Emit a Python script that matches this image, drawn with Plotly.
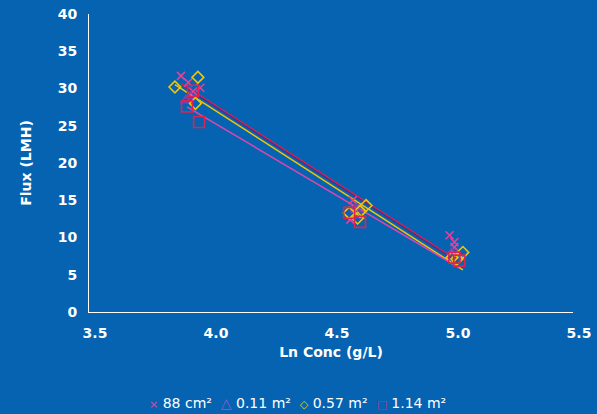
import plotly.graph_objects as go

# ---- data ----
series_names = ["88 cm²", "0.11 m²", "0.57 m²", "1.14 m²"]
legend_glyphs = ["×", "△", "◇", "□"]

x_88cm2 = [3.88, 3.91, 3.96, 3.93, 4.59, 4.58, 4.60, 4.99, 5.01, 5.01]
y_88cm2 = [31.7, 30.8, 30.1, 29.6, 15.0, 12.4, 13.9, 10.3, 9.4, 8.7]

x_011m2 = [3.92, 3.90, 4.60, 4.62, 5.00, 5.02]
y_011m2 = [29.0, 28.4, 13.8, 13.0, 8.0, 7.6]

x_057m2 = [3.855, 3.95, 3.94, 4.575, 4.62, 4.645, 4.61, 5.045, 5.00, 5.02]
y_057m2 = [30.2, 31.5, 28.0, 13.3, 13.5, 14.3, 12.6, 8.0, 7.3, 7.1]

x_114m2 = [3.905, 3.955, 3.93, 4.575, 4.62, 5.01, 5.03]
y_114m2 = [27.6, 25.5, 29.7, 13.3, 12.1, 7.3, 6.9]

# linear trendlines: flux = intercept + slope * ln(conc)
trend_intercept = [111.4, 111.2, 111.1, 102.5]
trend_slope = [-20.8, -20.8, -20.9, -19.2]

x_ticks = [3.5, 4.0, 4.5, 5.0, 5.5]
x_tick_text = ["3.5", "4.0", "4.5", "5.0", "5.5"]
y_ticks = [0, 5, 10, 15, 20, 25, 30, 35, 40]

# ---- styling ----
bg = "#0563B2"
marker_colors = ["#E8409A", "#7446AE", "#F5C400", "#E0224E"]
legend_colors = ["#E8409A", "#8E5BD0", "#F5C400", "#E0224E"]
legend_glyph_px = [11, 14, 11, 11]
line_colors = ["#E41D4C", "#3F3592", "#F2C500", "#E045AA"]
symbols = ["x-thin-open", "triangle-up-open", "diamond-open", "square-open"]
sizes = [8, 9, 9, 11]

xs = [x_88cm2, x_011m2, x_057m2, x_114m2]
ys = [y_88cm2, y_011m2, y_057m2, y_114m2]

fig = go.Figure()

# trendlines
for i in range(4):
    x0, x1 = min(xs[i]), max(xs[i])
    fig.add_trace(go.Scatter(
        x=[x0, x1],
        y=[trend_intercept[i] + trend_slope[i] * x0, trend_intercept[i] + trend_slope[i] * x1],
        mode="lines", line=dict(color=line_colors[i], width=1.5),
        showlegend=False, hoverinfo="skip"))

# markers
for i in range(4):
    fig.add_trace(go.Scatter(
        x=xs[i], y=ys[i], mode="markers", name=series_names[i], showlegend=False,
        marker=dict(symbol=symbols[i], size=sizes[i],
                    color=marker_colors[i],
                    line=dict(color=marker_colors[i], width=1.6))))

# compact legend as one line of text
parts = []
for i in range(4):
    parts.append(f"<span style='color:{legend_colors[i]};font-size:{legend_glyph_px[i]}px'>{legend_glyphs[i]}</span> {series_names[i]}")
legend_text = "  ".join(parts)

tick_font = dict(family="DejaVu Sans", size=14, color="white", weight="bold")

fig.update_layout(
    width=597, height=414,
    paper_bgcolor=bg, plot_bgcolor=bg,
    margin=dict(l=89, r=24, t=14, b=102, autoexpand=False),
    showlegend=False,
    annotations=[dict(text=legend_text, xref="paper", yref="paper", x=0.431, y=-0.305,
                      xanchor="center", yanchor="middle", showarrow=False,
                      font=dict(family="DejaVu Sans", size=14, color="white"))],
    xaxis=dict(range=[3.5, 5.5], tickvals=x_ticks, ticktext=x_tick_text, automargin=False,
               showgrid=False, zeroline=False, showline=True, linecolor="white", linewidth=1,
               ticks="", tickfont=tick_font, ticklabelshift=6, ticklabelstandoff=8,
               title=dict(text="Ln Conc (g/L)", font=tick_font, standoff=7)),
    yaxis=dict(range=[0, 40], tickvals=y_ticks, automargin=False,
               showgrid=False, zeroline=False, showline=True, linecolor="white", linewidth=1,
               ticks="", tickfont=tick_font, ticklabelstandoff=8,
               title=dict(text="Flux (LMH)", font=tick_font, standoff=22)),
)

fig.write_html("out.html", config={"displayModeBar": False},
               post_script="document.body.style.margin='0';document.body.style.overflow='hidden';")
